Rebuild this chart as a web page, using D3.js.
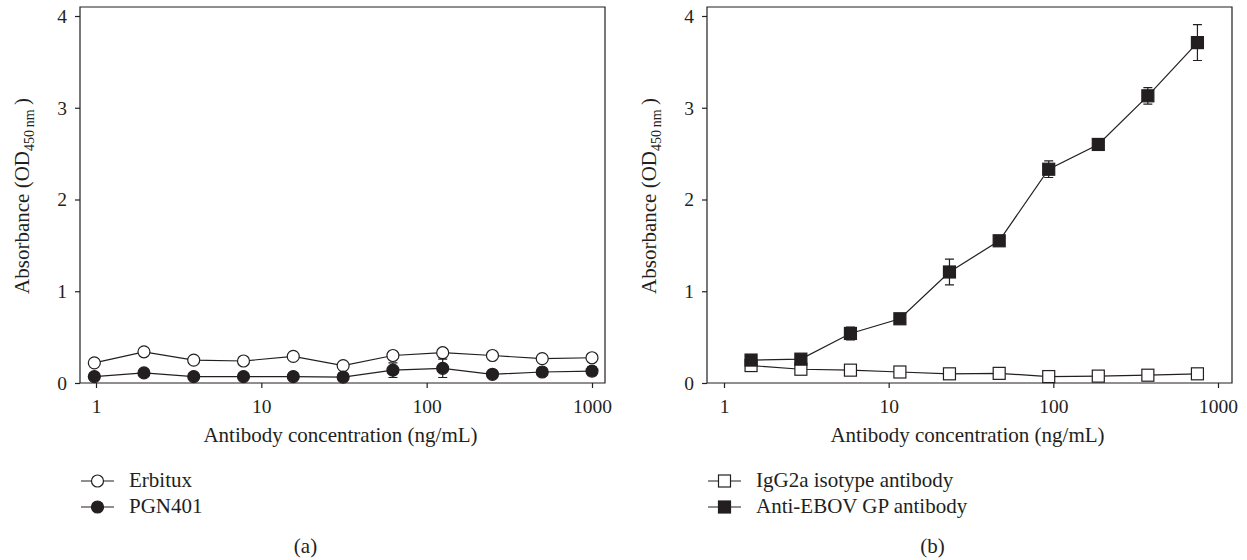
<!DOCTYPE html>
<html>
<head>
<meta charset="utf-8">
<script src="https://cdn.jsdelivr.net/npm/d3@7"></script>
<style>
  body { margin: 0; background: #fff; }
  svg { display: block; font-family: "Liberation Serif", "DejaVu Serif", serif; }
</style>
</head>
<body>
<svg id="chart" width="1247" height="560"></svg>
<script>
// panel (a)
const concA = [0.977, 1.95, 3.9, 7.8, 15.6, 31.25, 62.5, 125, 250, 500, 1000]
const erbitux = [0.22, 0.34, 0.25, 0.24, 0.29, 0.19, 0.30, 0.33, 0.30, 0.265, 0.275]
const erbituxErr = [0.01, 0.01, 0.01, 0.01, 0.04, 0.01, 0.02, 0.02, 0.01, 0.01, 0.02]
const pgn401 = [0.07, 0.11, 0.07, 0.07, 0.07, 0.065, 0.14, 0.16, 0.095, 0.12, 0.13]
const pgn401Err = [0.01, 0.01, 0.01, 0.01, 0.01, 0.01, 0.08, 0.10, 0.01, 0.02, 0.05]

// panel (b)
const concB = [1.46, 2.93, 5.86, 11.7, 23.4, 46.9, 93.75, 187.5, 375, 750]
const igg2a = [0.19, 0.15, 0.14, 0.12, 0.10, 0.105, 0.07, 0.075, 0.085, 0.10]
const igg2aErr = [0.01, 0.01, 0.01, 0.01, 0.01, 0.01, 0.01, 0.01, 0.01, 0.01]
const antiEbov = [0.25, 0.26, 0.54, 0.70, 1.21, 1.55, 2.33, 2.60, 3.13, 3.71]
const antiEbovErr = [0.02, 0.02, 0.07, 0.03, 0.14, 0.03, 0.09, 0.03, 0.09, 0.195]

const yTicks = [0, 1, 2, 3, 4]
const xTicks = [1, 10, 100, 1000]

const svg = d3.select('#chart')
const ink = '#231f20'
const textSize = 21
const tickSize = 19.5

function panel(opt) {
	const g = svg.append('g')
	const x = d3.scaleLog().domain([1, 1000]).range([opt.x1, opt.x1000])
	const y = d3.scaleLinear().domain([0, 4]).range([383, 16])

	// frame
	g.append('path')
		.attr('d', `M${opt.left},383 L${opt.left},7 L${opt.right},7 L${opt.right},383 Z`)
		.attr('fill', 'none')
		.attr('stroke', ink)
		.attr('stroke-width', 1.2)

	g.append('g')
		.attr('transform', `translate(${opt.left},0)`)
		.call(d3.axisLeft(y).tickValues(yTicks).tickSize(5).tickPadding(8).tickFormat(d3.format('d')))
	g.append('g')
		.attr('transform', `translate(0,383)`)
		.call(d3.axisBottom(x).tickValues(xTicks).tickSize(5).tickPadding(11).tickFormat(d3.format('d')))

	g.selectAll('path.domain').remove()
	g.selectAll('.tick line').attr('stroke', ink).attr('stroke-width', 1.2)
	g.selectAll('.tick text')
		.attr('fill', ink)
		.style('font-family', '"Liberation Serif", serif')
		.style('font-size', tickSize + 'px')

	// titles
	const cx = (opt.left + opt.right) / 2
	g.append('text')
		.attr('x', cx - 2).attr('y', 442)
		.attr('text-anchor', 'middle')
		.attr('font-size', textSize)
		.attr('fill', ink)
		.text('Antibody concentration (ng/mL)')

	const yt = g.append('text')
		.attr('transform', `translate(${opt.left - 51},196) rotate(-90)`)
		.attr('text-anchor', 'middle')
		.attr('font-size', textSize)
		.attr('fill', ink)
	yt.append('tspan').text('Absorbance (OD')
	yt.append('tspan').attr('font-size', 14).attr('dy', 5).text('450\u2009nm')
	yt.append('tspan').attr('dy', -5).text('\u2009)')

	g.append('text')
		.attr('x', cx - 37).attr('y', 553)
		.attr('text-anchor', 'middle')
		.attr('font-size', textSize)
		.attr('fill', ink)
		.text(opt.tag)

	const line = d3.line().x(d => x(d[0])).y(d => y(d[1]))

	opt.series.forEach((s, si) => {
		const pts = opt.conc.map((c, i) => [c, s.values[i], s.err[i]])
		g.append('path')
			.attr('d', line(pts))
			.attr('fill', 'none')
			.attr('stroke', ink)
			.attr('stroke-width', 1.2)

		pts.forEach(p => {
			const px = x(p[0]), hi = y(p[1] + p[2]), lo = y(p[1] - p[2])
			g.append('path')
				.attr('d', `M${px},${hi} V${lo} M${px - 4.5},${hi} H${px + 4.5} M${px - 4.5},${lo} H${px + 4.5}`)
				.attr('stroke', ink)
				.attr('stroke-width', 1.2)
				.attr('fill', 'none')
		})

		pts.forEach(p => drawMarker(g, opt.shape, s.fill, x(p[0]), y(p[1])))

		// legend
		const ly = 481 + si * 26
		const lx = opt.left + 17.5
		g.append('line')
			.attr('x1', lx - 16.5).attr('x2', lx + 16.5)
			.attr('y1', ly).attr('y2', ly)
			.attr('stroke', ink).attr('stroke-width', 1.2)
		drawMarker(g, opt.shape, s.fill, lx, ly)
		g.append('text')
			.attr('x', opt.left + 49).attr('y', ly + 6)
			.attr('font-size', textSize)
			.attr('fill', ink)
			.text(s.name)
	})
}

function drawMarker(g, shape, fill, cx, cy) {
	if (shape === 'circle') {
		g.append('circle')
			.attr('cx', cx).attr('cy', cy).attr('r', 6)
			.attr('fill', fill).attr('stroke', ink).attr('stroke-width', 1.2)
	} else {
		g.append('rect')
			.attr('x', cx - 6).attr('y', cy - 6)
			.attr('width', 12).attr('height', 12)
			.attr('fill', fill).attr('stroke', ink).attr('stroke-width', 1.2)
	}
}

panel({
	left: 80, right: 605, x1: 96, x1000: 592, tag: '(a)', shape: 'circle',
	conc: concA,
	series: [
		{ name: 'Erbitux', values: erbitux, err: erbituxErr, fill: '#fff' },
		{ name: 'PGN401', values: pgn401, err: pgn401Err, fill: ink }
	]
})

panel({
	left: 707, right: 1232, x1: 724, x1000: 1218, tag: '(b)', shape: 'square',
	conc: concB,
	series: [
		{ name: 'IgG2a isotype antibody', values: igg2a, err: igg2aErr, fill: '#fff' },
		{ name: 'Anti-EBOV GP antibody', values: antiEbov, err: antiEbovErr, fill: ink }
	]
})
</script>
</body>
</html>
